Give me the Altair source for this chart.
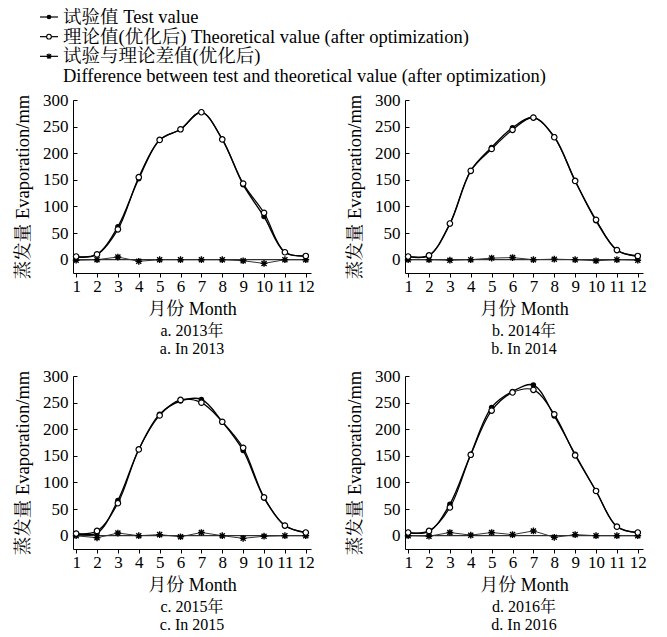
import altair as alt
import pandas as pd

FONT = "Times New Roman, Liberation Serif, Noto Serif CJK SC, Noto Sans CJK SC, serif"

months = list(range(1, 13))
y_ticks = [0, 50, 100, 150, 200, 250, 300]

# 2013
test_2013 = [5, 10, 62, 152, 225, 245, 277, 226, 141, 81, 14, 7]
theory_2013 = [6, 10, 57, 155, 225, 245, 277, 226, 143, 88, 14, 7]
diff_2013 = [-1, 0, 5, -3, 0, 0, 0, 0, -2, -7, 0, 0]
# 2014
test_2014 = [6, 8, 67, 167, 211, 248, 267, 231, 148, 73, 18, 6]
theory_2014 = [6, 8, 68, 167, 208, 244, 267, 230, 148, 75, 18, 7]
diff_2014 = [0, 0, -1, 0, 3, 4, 0, 1, 0, -2, 0, -1]
# 2015
test_2015 = [4, 5, 66, 162, 228, 253, 256, 214, 160, 71, 19, 6]
theory_2015 = [4, 9, 61, 162, 226, 255, 250, 214, 165, 72, 19, 6]
diff_2015 = [0, -4, 5, 0, 2, -2, 6, 0, -5, -1, 0, 0]
# 2016
test_2016 = [6, 8, 59, 153, 241, 271, 283, 225, 153, 84, 17, 6]
theory_2016 = [6, 9, 53, 152, 235, 269, 274, 228, 151, 84, 17, 6]
diff_2016 = [0, -1, 6, 1, 6, 2, 9, -3, 2, 0, 0, 0]

panel_titles = [
    ["a. 2013年", "a. In 2013"],
    ["b. 2014年", "b. In 2014"],
    ["c. 2015年", "c. In 2015"],
    ["d. 2016年", "d. In 2016"],
]

legend_labels = [
    "试验值 Test value",
    "理论值(优化后) Theoretical value (after optimization)",
    "试验与理论差值(优化后)",
    "Difference between test and theoretical value (after optimization)",
]
legend_keys = ["test", "theory", "diff", "none"]

ASTERISK = "M-1,0L1,0M0,-1L0,1M-0.75,-0.75L0.75,0.75M-0.75,0.75L0.75,-0.75"

PW, PH = 238, 173


def panel(test, theory, diff, title_lines):
    df_t = pd.DataFrame({"month": months, "value": test})
    df_th = pd.DataFrame({"month": months, "value": theory})
    df_d = pd.DataFrame({"month": months, "value": diff})
    df_zero = pd.DataFrame({"month": [months[0], months[-1]], "value": [0, 0]})

    xs = alt.Scale(domain=[0.85, 12.25], nice=False, zero=False)
    ys = alt.Scale(domain=[-25, 300], nice=False, zero=False)
    x_enc = alt.X(
        "month:Q",
        scale=xs,
        axis=alt.Axis(
            values=months, format="d", title="月份 Month", grid=False,
            tickSize=4, labelPadding=1, titlePadding=6,
            labelFontSize=17, titleFontSize=18, labelFlush=False,
            labelOverlap=False, labelFont=FONT, titleFont=FONT,
            titleFontWeight="normal", labelFontWeight="normal",
        ),
    )
    y_enc = alt.Y(
        "value:Q",
        scale=ys,
        axis=alt.Axis(
            values=y_ticks, title="蒸发量 Evaporation/mm", grid=False,
            tickSize=alt.ExprRef(expr="-4"), labelPadding=9, titlePadding=10,
            labelFontSize=17, titleFontSize=18.5, labelFont=FONT, titleFont=FONT,
            titleFontWeight="normal", labelFontWeight="normal",
        ),
    )

    zero = alt.Chart(df_zero).mark_line(color="black", strokeWidth=1).encode(x=x_enc, y=y_enc)
    dline = alt.Chart(df_d).mark_line(color="#333333", strokeWidth=1).encode(x=x_enc, y=y_enc)
    tline = alt.Chart(df_t).mark_line(
        color="black", strokeWidth=1.4, interpolate="catmull-rom"
    ).encode(x=x_enc, y=y_enc)
    thline = alt.Chart(df_th).mark_line(
        color="black", strokeWidth=1.2, interpolate="catmull-rom"
    ).encode(x=x_enc, y=y_enc)
    dpts = alt.Chart(df_d).mark_point(
        shape=ASTERISK, size=45, filled=False, color="black", strokeWidth=1.4, opacity=1
    ).encode(x=x_enc, y=y_enc)
    tpts = alt.Chart(df_t).mark_point(
        shape="circle", size=30, filled=True, color="black", opacity=1
    ).encode(x=x_enc, y=y_enc)
    thpts = alt.Chart(df_th).mark_point(
        shape="circle", size=30, fill="white", stroke="black", strokeWidth=1.2, opacity=1, fillOpacity=1
    ).encode(x=x_enc, y=y_enc)

    return alt.layer(zero, dline, tline, thline, dpts, tpts, thpts).properties(
        width=PW,
        height=PH,
        title=alt.TitleParams(
            text=title_lines, orient="bottom", fontSize=16, font=FONT,
            fontWeight="normal", offset=5, lineHeight=18, anchor="middle",
            color="black",
        ),
    )


# legend built from the label lists (positions relative to panel a's plot origin)
leg_df = pd.DataFrame({"row": [0, 1, 2, 3], "label": legend_labels, "key": legend_keys})
leg_y = alt.Y("row:Q", scale=alt.Scale(domain=[0, 3], range=[8, 67]), axis=None)

leg_text = alt.Chart(leg_df).mark_text(
    align="left", baseline="middle", fontSize=18.5, font=FONT, color="black"
).encode(x=alt.value(-10), y=leg_y, text="label:N")
leg_sym_line = alt.Chart(leg_df).transform_filter(alt.datum.key != "none").mark_rule(
    color="black", strokeWidth=1.2
).encode(x=alt.value(-33), x2=alt.value(-15), y=leg_y)
leg_test = alt.Chart(leg_df).transform_filter(alt.datum.key == "test").mark_point(
    shape="circle", size=22, filled=True, color="black", opacity=1
).encode(x=alt.value(-24), y=leg_y)
leg_theory = alt.Chart(leg_df).transform_filter(alt.datum.key == "theory").mark_point(
    shape="circle", size=22, fill="white", stroke="black", strokeWidth=1.1, opacity=1
).encode(x=alt.value(-24), y=leg_y)
leg_diff = alt.Chart(leg_df).transform_filter(alt.datum.key == "diff").mark_point(
    shape=ASTERISK, size=30, filled=False, color="black", strokeWidth=1.2, opacity=1
).encode(x=alt.value(-24), y=leg_y)

legend = alt.layer(leg_sym_line, leg_test, leg_theory, leg_diff, leg_text).properties(
    width=480, height=80
)

pa = panel(test_2013, theory_2013, diff_2013, panel_titles[0])
pb = panel(test_2014, theory_2014, diff_2014, panel_titles[1])
pc = panel(test_2015, theory_2015, diff_2015, panel_titles[2])
pd_ = panel(test_2016, theory_2016, diff_2016, panel_titles[3])

row1 = alt.hconcat(pa, pb, spacing=30)
row2 = alt.hconcat(pc, pd_, spacing=30)
grid = alt.vconcat(row1, row2, spacing=10)

chart = alt.vconcat(legend, grid, spacing=2).properties(
    padding={"left": 5, "top": 0, "right": 0, "bottom": 0}
).configure(background="white").configure_view(stroke=None).configure_axis(
    labelFont=FONT, titleFont=FONT, labelColor="black", titleColor="black",
    domainColor="black", tickColor="black", titleFontWeight="normal",
    domainWidth=1, tickWidth=1,
)

chart.save("out.html", embed_options={"renderer": "svg", "actions": False})
